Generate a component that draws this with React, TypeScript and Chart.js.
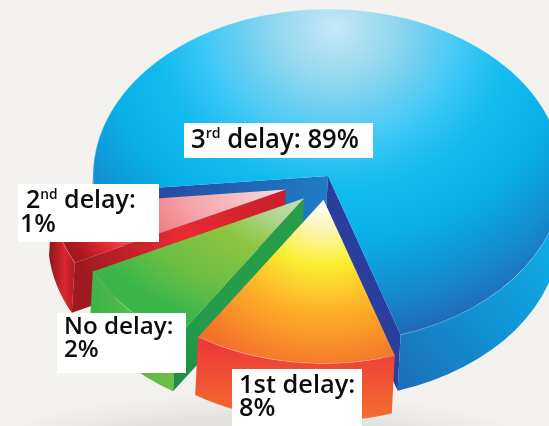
import React, { useEffect, useRef } from "react";
import { Chart, registerables } from "chart.js";

Chart.register(...registerables);

// Order of the slices, clockwise from the right-hand edge of the front slice.
const categories = ["1st delay", "No delay", "2nd delay", "3rd delay"];
// Percentages printed in the reference's labels.
const labelledPercent = [8, 2, 1, 89];
// The reference's artwork does not draw its slices to the printed scale:
// these are the sweeps, in degrees.
const drawnSweep = [51, 31, 20.5, 257.5];
const pieRotation = 162;
// How far each slice is pulled out of the pie (chart px).
const sliceOffset = [28, 32, 37, 0];

const W = 549;
const H = 426;
const PIE = { cx: 328, cy: 176, rx: 235, ry: 167 };
const depth = [58, 53, 50, 56];
const radiusFactor = [0.98, 1, 1, 1];
const apexNudge = [[0, 0], [5, 4], [1, 5], [0, 0]];
const drawOrder = [3, 2, 1, 0];

const labelBoxes = [
  { i: 3, box: [184, 123, 189, 35], x: 191, base: [148], head: ["3", "rd", " delay: "], inline: true, size: 27, squeeze: 0.95 },
  { i: 2, box: [18, 184, 141, 58], x: 26, x2: 20, base: [208, 232], head: ["2", "nd", " delay:"], size: 25, squeeze: 1 },
  { i: 1, box: [57, 313, 129, 60], x: 64, x2: 64, base: [334, 357], head: ["No delay:", "", ""], size: 24.2, squeeze: 1 },
  { i: 0, box: [232, 369, 130, 57], x: 239, x2: 239, base: [393, 416], head: ["1st delay:", "", ""], size: 25.4, squeeze: 1 },
];

type Stops = [number, string][];

function addStops(g: CanvasGradient, stops: Stops) {
  stops.forEach(([o, c]) => g.addColorStop(o, c));
  return g;
}

function fillRadial(ctx: CanvasRenderingContext2D, cx: number, cy: number, sx: number, sy: number, stops: Stops) {
  ctx.save();
  ctx.translate(cx, cy);
  ctx.scale(sx, sy);
  ctx.fillStyle = addStops(ctx.createRadialGradient(0, 0, 0, 0, 0, 1), stops);
  ctx.fill();
  ctx.restore();
}

function linear(ctx: CanvasRenderingContext2D, x0: number, y0: number, x1: number, y1: number, stops: Stops) {
  return addStops(ctx.createLinearGradient(x0, y0, x1, y1), stops);
}

const pie3d = {
  id: "pie3d",
  beforeDraw(chart: any) {
    const ctx: CanvasRenderingContext2D = chart.ctx;
    ctx.save();
    ctx.fillStyle = "#f3f2ee";
    ctx.fillRect(0, 0, W, H);
    ctx.beginPath();
    ctx.rect(0, 0, W, H);
    fillRadial(ctx, 260, 480, 340, 90, [
      [0, "rgba(200,198,196,0.7)"],
      [0.72, "rgba(210,208,205,0.45)"],
      [1, "rgba(225,224,220,0)"],
    ]);
    ctx.restore();
  },
  beforeDatasetsDraw(chart: any) {
    const ctx: CanvasRenderingContext2D = chart.ctx;
    const arcs = chart.getDatasetMeta(0).data;
    const geo = arcs.map((el: any, i: number) => {
      const p = el.getProps(["startAngle", "endAngle", "outerRadius"], true);
      const mid = (p.startAngle + p.endAngle) / 2;
      const f = (el.options.offset || 0) / p.outerRadius;
      return {
        start: p.startAngle,
        end: p.endAngle,
        rx: PIE.rx * radiusFactor[i],
        ry: PIE.ry * radiusFactor[i],
        ax: PIE.cx + Math.cos(mid) * f * PIE.rx + apexNudge[i][0],
        ay: PIE.cy + Math.sin(mid) * f * PIE.ry + apexNudge[i][1],
      };
    });
    const rim = (g: any, t: number, d = 0) => [
      g.ax + Math.cos(t) * g.rx - (d ? 3 : 0),
      g.ay + Math.sin(t) * g.ry + d,
    ];
    const traceTop = (g: any) => {
      ctx.beginPath();
      ctx.moveTo(g.ax, g.ay);
      ctx.ellipse(g.ax, g.ay, g.rx, g.ry, 0, g.start, g.end);
      ctx.closePath();
    };
    const traceFace = (g: any, t: number, d: number) => {
      const [x, y] = rim(g, t);
      const [bx, by] = rim(g, t, d);
      ctx.beginPath();
      ctx.moveTo(g.ax, g.ay);
      ctx.lineTo(x, y);
      ctx.lineTo(bx, by);
      ctx.lineTo(g.ax - 3, g.ay + d);
      ctx.closePath();
    };
    // Outer wall: only the parts of the rim that face the viewer.
    const traceWall = (g: any, d: number) => {
      const TAU = Math.PI * 2;
      ctx.beginPath();
      for (let k = -1; k < 3; k++) {
        const a = Math.max(g.start, k * TAU);
        const b = Math.min(g.end, k * TAU + Math.PI);
        if (b > a) {
          const [sx, sy] = rim(g, a);
          ctx.moveTo(sx, sy);
          ctx.ellipse(g.ax, g.ay, g.rx, g.ry, 0, a, b);
          ctx.ellipse(g.ax - 3, g.ay + d, g.rx, g.ry, 0, b, a, true);
          ctx.closePath();
        }
      }
    };

    const painters: Record<number, (g: any, d: number) => void> = {
      3: (g, d) => {
        traceFace(g, g.start, d);
        ctx.fillStyle = linear(ctx, 150, 190, 328, 180, [
          [0, "#25479f"],
          [0.5, "#2364b4"],
          [1, "#1e7cc8"],
        ]);
        ctx.fill();
        traceFace(g, g.end, d);
        ctx.fillStyle = "#2a3f9d";
        ctx.fill();
        traceWall(g, d);
        ctx.fillStyle = linear(ctx, 400, 395, 552, 255, [
          [0, "#1c6cb8"],
          [0.5, "#1290d2"],
          [1, "#0eaae5"],
        ]);
        ctx.fill();
        traceTop(g);
        fillRadial(ctx, 335, 28, 345, 310, [
          [0, "#c6e9f6"],
          [0.18, "#8fd6f0"],
          [0.4, "#35c6f5"],
          [0.52, "#12bbef"],
          [0.68, "#09b0e8"],
          [0.85, "#138fd2"],
          [1, "#1f6bb8"],
        ]);
      },
      2: (g, d) => {
        traceWall(g, d);
        ctx.fillStyle = linear(ctx, 49, 0, 80, 0, [
          [0, "#8a171c"],
          [0.5, "#dc2730"],
          [1, "#9a161c"],
        ]);
        ctx.fill();
        traceFace(g, g.start, d);
        ctx.fillStyle = linear(ctx, 79, 262, 286, 190, [
          [0, "#9e1a20"],
          [0.48, "#e92a33"],
          [1, "#c71f2b"],
        ]);
        ctx.fill();
        traceTop(g);
        fillRadial(ctx, g.ax, g.ay, 235, 135, [
          [0, "#fbdcdc"],
          [0.45, "#f5a0a5"],
          [0.68, "#ee6f78"],
          [0.85, "#ee2e36"],
          [1, "#a8161e"],
        ]);
      },
      1: (g, d) => {
        traceWall(g, d);
        ctx.fillStyle = linear(ctx, 92, 0, 176, 0, [
          [0, "#3bb54a"],
          [1, "#70bf44"],
        ]);
        ctx.fill();
        traceFace(g, g.start, d);
        ctx.fillStyle = linear(ctx, 175, 380, 300, 200, [
          [0, "#1f8f45"],
          [0.3, "#249c4a"],
          [1, "#289e4a"],
        ]);
        ctx.fill();
        traceTop(g);
        fillRadial(ctx, g.ax, g.ay, 225, 135, [
          [0, "#c4dfb2"],
          [0.2, "#afd58f"],
          [0.42, "#8cc63f"],
          [0.75, "#6cbe45"],
          [1, "#3bb54a"],
        ]);
      },
      0: (g, d) => {
        traceWall(g, d);
        ctx.fillStyle = linear(ctx, 0, 345, 0, 415, [
          [0, "#ee3a3a"],
          [1, "#f46b2e"],
        ]);
        ctx.fill();
        traceTop(g);
        fillRadial(ctx, g.ax, g.ay, 180, 175, [
          [0, "#ffffff"],
          [0.18, "#fbf6b0"],
          [0.38, "#fbee30"],
          [0.62, "#fdb528"],
          [0.88, "#f7852a"],
          [1, "#f5702c"],
        ]);
      },
    };

    ctx.save();
    drawOrder.forEach((i) => {
      painters[i](geo[i], depth[i]);
      const g = geo[i];
      ctx.beginPath();
      ctx.ellipse(g.ax, g.ay, g.rx, g.ry, 0, g.start, g.end);
      ctx.strokeStyle = "rgba(255,255,255,0.22)";
      ctx.lineWidth = 1;
      ctx.stroke();
    });
    ctx.restore();

    // Labels
    ctx.save();
    ctx.textBaseline = "alphabetic";
    labelBoxes.forEach((l) => {
      ctx.fillStyle = "#ffffff";
      const [bx, by, bw, bh] = l.box;
      ctx.fillRect(bx, by, bw, bh);
      ctx.fillStyle = "#0d0d10";
      const font = (s: number) => `600 ${s}px "Open Sans", "Noto Sans", sans-serif`;
      ctx.save();
      ctx.translate(l.x, l.base[0]);
      ctx.scale(l.squeeze, 1);
      let x = 0;
      ctx.font = font(l.size);
      ctx.fillText(l.head[0], x, 0);
      x += ctx.measureText(l.head[0]).width;
      if (l.head[1]) {
        ctx.font = font(l.size * 0.55);
        ctx.fillText(l.head[1], x, -l.size * 0.36);
        x += ctx.measureText(l.head[1]).width;
        ctx.font = font(l.size);
        ctx.fillText(l.head[2], x, 0);
        x += ctx.measureText(l.head[2]).width;
      }
      const pct = `${labelledPercent[l.i]}%`;
      if (l.inline) ctx.fillText(pct, x, 0);
      ctx.restore();
      if (!l.inline) {
        ctx.font = font(l.size);
        ctx.fillText(pct, l.x2 as number, l.base[1]);
      }
    });
    ctx.restore();
    return false;
  },
};

export default function App() {
  const ref = useRef<HTMLCanvasElement>(null);
  useEffect(() => {
    const chart = new Chart(ref.current as HTMLCanvasElement, {
      type: "pie",
      data: {
        labels: categories,
        datasets: [
          {
            data: drawnSweep,
            offset: sliceOffset,
            borderWidth: 0,
          },
        ],
      },
      options: {
        animation: false,
        responsive: false,
        rotation: pieRotation,
        layout: { padding: 0 },
        plugins: { legend: { display: false }, tooltip: { enabled: false } },
      },
      plugins: [pie3d],
    } as any);
    return () => chart.destroy();
  }, []);
  return (
    <div style={{ position: "fixed", left: 0, top: 0, width: W, height: H, overflow: "hidden" }}>
      <canvas ref={ref} width={W} height={H} style={{ display: "block" }} />
    </div>
  );
}
